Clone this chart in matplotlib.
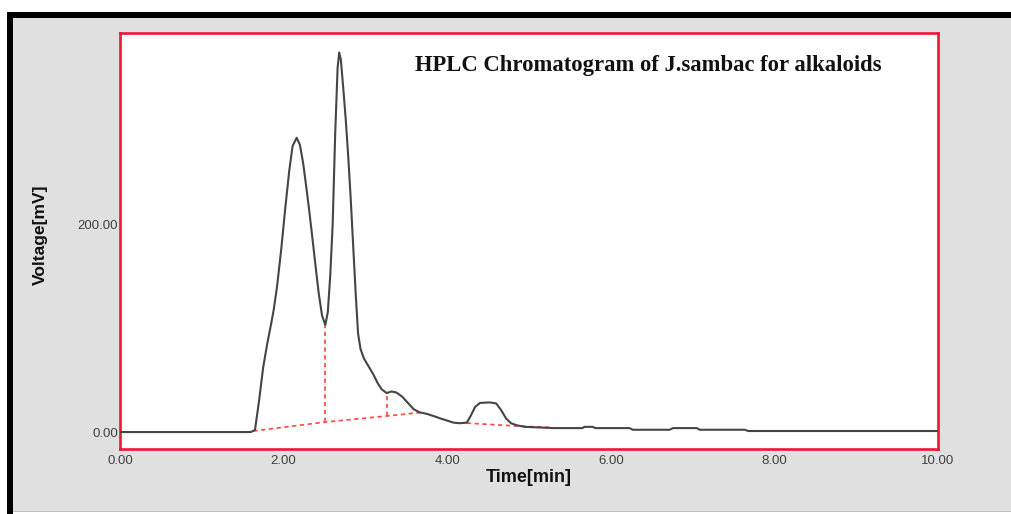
import matplotlib
matplotlib.use("Agg")
import matplotlib.pyplot as plt
from matplotlib.patches import Rectangle

# ---- data ----
time_min = [0.00, 1.60, 1.65, 1.70, 1.75, 1.80, 1.85, 1.88, 1.92, 1.97, 2.02, 2.07,
            2.11, 2.16, 2.20, 2.24, 2.27, 2.31, 2.35, 2.39, 2.43, 2.47, 2.51, 2.54,
            2.57, 2.60, 2.63, 2.66, 2.68, 2.70, 2.73, 2.76, 2.79, 2.82, 2.85, 2.88,
            2.91, 2.94, 2.98, 3.04, 3.10, 3.15, 3.20, 3.26, 3.32, 3.38, 3.45, 3.52,
            3.59, 3.66, 3.75, 3.83, 3.92, 4.00, 4.08, 4.15, 4.24, 4.29, 4.34, 4.40,
            4.52, 4.60, 4.66, 4.72, 4.78, 4.85, 4.95, 5.10, 5.30, 5.65, 5.68, 5.78,
            5.81, 6.23, 6.27, 6.72, 6.76, 7.05, 7.09, 7.64, 7.68, 10.00]
voltage_mv = [0, 0, 2, 30, 62, 85, 105, 118, 140, 175, 215, 252,
              275, 283, 276, 258, 240, 215, 188, 160, 133, 112, 103, 115,
              150, 200, 285, 350, 365, 358, 330, 300, 265, 225, 180, 135,
              95, 80, 71, 63, 55, 47, 41, 37.5, 39, 38, 34, 28,
              22, 19, 17.5, 15.5, 13, 11, 9, 8.5, 9, 16, 24, 28,
              28.5, 27.5, 21, 13, 8.5, 6.5, 5, 4.5, 3.8, 3.8, 5, 5,
              3.8, 3.8, 2.2, 2.2, 3.8, 3.8, 2.2, 2.2, 1, 1]

# integration baselines (red dashed)
base1_t = [1.63, 2.51, 3.26, 3.70]
base1_v = [1.0, 9.6, 15.4, 19.0]
base2_t = [4.24, 4.85, 5.25]
base2_v = [8.6, 5.8, 4.5]
# peak drop lines (time, bottom, top)
drop_t = [2.51, 3.26]
drop_bottom = [9.6, 15.4]
drop_top = [103, 37.5]

x_ticks = [0, 2, 4, 6, 8, 10]
x_tick_labels = ["0.00", "2.00", "4.00", "6.00", "8.00", "10.00"]
y_ticks = [0, 200]
y_tick_labels = ["0.00", "200.00"]

title = "HPLC Chromatogram of J.sambac for alkaloids"

# ---- figure ----
W, H = 1012, 514
fig = plt.figure(figsize=(W / 100, H / 100), dpi=100, facecolor="white")

# background frame (pixel coordinates)
bg = fig.add_axes([0, 0, 1, 1], zorder=-10)
bg.set_xlim(0, W)
bg.set_ylim(H, 0)
bg.axis("off")
bg.add_patch(Rectangle((13, 18), W - 13, 494, facecolor="#e0e0e0", edgecolor="none"))
bg.add_patch(Rectangle((13, 510.5), W - 13, 1.5, facecolor="#c4c4c4", edgecolor="none"))
bg.add_patch(Rectangle((7, 12), W - 7, 6, facecolor="black", edgecolor="none"))
bg.add_patch(Rectangle((7, 12), 6, H - 12, facecolor="black", edgecolor="none"))

left, right, top, bottom = 120, 938, 33, 449
ax = fig.add_axes([left / W, 1 - bottom / H, (right - left) / W, (bottom - top) / H])
ax.set_facecolor("white")

ax.plot(time_min, voltage_mv, color="#454545", lw=1.5, solid_joinstyle="round", zorder=3)

dash_kw = dict(color="#ff4d4d", lw=1.25, dashes=(2.5, 2.0), zorder=2)
ax.plot(base1_t, base1_v, **dash_kw)
ax.plot(base2_t, base2_v, **dash_kw)
for t, b, tp in zip(drop_t, drop_bottom, drop_top):
    ax.plot([t, t], [b, tp], **dash_kw)

ax.set_xlim(0, 10)
ax.set_ylim(-16.3, 383.7)

ax.set_xticks(x_ticks)
ax.set_xticklabels(x_tick_labels)
ax.set_yticks(y_ticks)
ax.set_yticklabels(y_tick_labels)
ax.tick_params(axis="both", length=0, labelsize=9.5, labelcolor="#404040")
ax.tick_params(axis="x", pad=4)
ax.tick_params(axis="y", pad=1.5)
for lab in ax.get_xticklabels() + ax.get_yticklabels():
    lab.set_fontfamily("Liberation Sans")

for sp in ax.spines.values():
    sp.set_color("#f01436")
    sp.set_linewidth(1.9)

ax.set_xlabel("Time[min]", fontsize=13, fontweight="bold", family="Liberation Sans",
              color="#111111", va="center")
ax.xaxis.set_label_coords(0.5, (bottom - 478) / (bottom - top))
ax.set_ylabel("Voltage[mV]", fontsize=12.5, fontweight="bold", family="Liberation Sans",
              color="#111111", va="center")
ax.yaxis.set_label_coords((40 - left) / (right - left), (bottom - 235) / (bottom - top))

ax.text((415 - left) / (right - left), (bottom - 65) / (bottom - top), title,
        transform=ax.transAxes, ha="left", va="center", fontsize=16.3,
        fontweight="bold", family="Liberation Serif", color="#111111")

fig.savefig("out.png", dpi=100, facecolor=fig.get_facecolor())
